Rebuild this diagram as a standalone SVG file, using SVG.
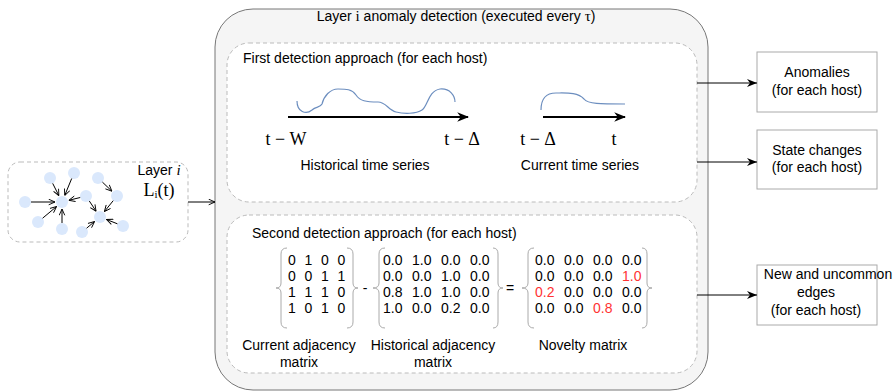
<svg xmlns="http://www.w3.org/2000/svg" width="895" height="391" viewBox="0 0 895 391">
<defs>
<style>
.s{font-family:"Liberation Sans",Arial,sans-serif;font-size:14px;fill:#000}
.m{font-family:"Liberation Serif","Times New Roman",serif;fill:#000}
.mx{font-family:"Liberation Sans",Arial,sans-serif;font-size:14px;fill:#000}
.red{fill:#ff3333}
.node{fill:#dae8fc;stroke:none}
.gedge{stroke:#000;stroke-width:1;fill:none;marker-end:url(#open)}
.conn{stroke:#000;stroke-width:1;fill:none;marker-end:url(#classic)}
.brace{stroke:#aaa;stroke-width:1;fill:none}
.wave{stroke:#6c8ebf;stroke-width:1.2;fill:none}
.axis{stroke:#000;stroke-width:2;fill:none;marker-end:url(#big)}
.dash{fill:#fff;stroke:#bbb;stroke-dasharray:4 3;stroke-width:1}
.box{fill:#fff;stroke:#aaa;stroke-width:1}
</style>
<marker id="classic" viewBox="0 0 10 10" refX="10" refY="5" markerWidth="10" markerHeight="10" markerUnits="userSpaceOnUse" orient="auto">
<path d="M0,1 L10,5 L0,9 L3,5 Z" fill="#000"/>
</marker>
<marker id="big" viewBox="0 0 10 10" refX="9" refY="5" markerWidth="6" markerHeight="6" orient="auto">
<path d="M0,1 L10,5 L0,9 L3,5 Z" fill="#000"/>
</marker>
<marker id="open" viewBox="0 0 10 10" refX="10" refY="5" markerWidth="7" markerHeight="7" markerUnits="userSpaceOnUse" orient="auto">
<path d="M1,1 L10,5 L1,9" fill="none" stroke="#000" stroke-width="1.3"/>
</marker>
</defs>

<g id="layer-graph">
<rect class="dash" x="8" y="162" width="180" height="80" rx="12"/>
<g id="graph-nodes">
<circle class="node" cx="50" cy="178" r="6"/>
<circle class="node" cx="74" cy="173" r="6"/>
<circle class="node" cx="98" cy="178" r="6"/>
<circle class="node" cx="117" cy="196" r="6"/>
<circle class="node" cx="86" cy="196" r="6"/>
<circle class="node" cx="25" cy="202" r="6"/>
<circle class="node" cx="62" cy="202" r="6"/>
<circle class="node" cx="100" cy="217" r="6"/>
<circle class="node" cx="38" cy="222" r="6"/>
<circle class="node" cx="62" cy="229" r="6"/>
<circle class="node" cx="82" cy="232" r="6"/>
<circle class="node" cx="123" cy="226" r="6"/>
</g>
<g id="graph-edges">
<line class="gedge" x1="52.7" y1="183.4" x2="58.9" y2="195.7"/>
<line class="gedge" x1="71.7" y1="178.5" x2="64.7" y2="195.5"/>
<line class="gedge" x1="31" y1="202" x2="55" y2="202"/>
<line class="gedge" x1="42.6" y1="218.2" x2="56.6" y2="206.5"/>
<line class="gedge" x1="62" y1="223" x2="62" y2="209"/>
<line class="gedge" x1="80.2" y1="197.5" x2="68.8" y2="200.3"/>
<line class="gedge" x1="89.3" y1="201" x2="96.1" y2="211.2"/>
<line class="gedge" x1="102.4" y1="182.1" x2="111.9" y2="191.2"/>
<line class="gedge" x1="113.2" y1="200.7" x2="104.4" y2="211.6"/>
<line class="gedge" x1="86.6" y1="228.2" x2="94.6" y2="221.5"/>
<line class="gedge" x1="117.4" y1="223.8" x2="106.5" y2="219.5"/>
</g>
<text class="s" x="159" y="175" text-anchor="middle">Layer <tspan class="m" font-style="italic" font-size="15">i</tspan></text>
<text class="m" x="159" y="196" text-anchor="middle" font-size="18">L<tspan font-size="11" dy="2">i</tspan><tspan dy="-2">(t)</tspan></text>
</g>

<g id="detection">
<rect x="215" y="9" width="493" height="381" rx="38" fill="#f5f5f5" stroke="#777" stroke-width="1"/>
<text class="s" x="456" y="21" text-anchor="middle">Layer <tspan class="m" font-size="15">i</tspan> anomaly detection (executed every <tspan class="m" font-size="15">τ</tspan>)</text>
</g>

<g id="first-approach">
<rect class="dash" x="227" y="43" width="470" height="159" rx="22"/>
<text class="s" x="243" y="63">First detection approach (for each host)</text>
<path class="wave" d="M297,101 C297,112 306,115 312,110 C316,106 320,108 322,104 C324,96 330,89 338,89 C346,89 352,89 356,95 C360,101 366,102 378,102 C386,102 388,110 396,112 C404,114 416,114 422,110 C428,106 428,91 440,89 C450,88 455,96 455,102"/>
<line class="axis" x1="288" y1="117" x2="468" y2="117"/>
<path class="wave" d="M541,110 C541,96 548,93 556,93 C566,93 578,92 584,99 C588,104 600,104 625,104"/>
<line class="axis" x1="543" y1="117" x2="625" y2="117"/>
<text class="m" x="286" y="145" font-size="18" text-anchor="middle">t − W</text>
<text class="m" x="462" y="145" font-size="18" text-anchor="middle">t − Δ</text>
<text class="m" x="538" y="145" font-size="18" text-anchor="middle">t − Δ</text>
<text class="m" x="614" y="145" font-size="18" text-anchor="middle">t</text>
<text class="s" x="365" y="170" text-anchor="middle">Historical time series</text>
<text class="s" x="580" y="170" text-anchor="middle">Current time series</text>
</g>

<g id="second-approach">
<rect class="dash" x="227" y="215" width="470" height="158" rx="22"/>
<text class="s" x="252" y="238">Second detection approach (for each host)</text>
<path class="brace" d="M287,248 Q281,248 281,254 L281,283 Q281,288 276,288 Q281,288 281,293 L281,322 Q281,328 287,328"/>
<path class="brace" d="M347,248 Q353,248 353,254 L353,283 Q353,288 358,288 Q353,288 353,293 L353,322 Q353,328 347,328"/>
<g class="mx">
<text y="265"><tspan x="288">0</tspan><tspan x="304.5">1</tspan><tspan x="321">0</tspan><tspan x="337.5">0</tspan></text>
<text y="281"><tspan x="288">0</tspan><tspan x="304.5">0</tspan><tspan x="321">1</tspan><tspan x="337.5">1</tspan></text>
<text y="297"><tspan x="288">1</tspan><tspan x="304.5">1</tspan><tspan x="321">1</tspan><tspan x="337.5">0</tspan></text>
<text y="313"><tspan x="288">1</tspan><tspan x="304.5">0</tspan><tspan x="321">1</tspan><tspan x="337.5">0</tspan></text>
</g>
<text class="s" x="365" y="293" text-anchor="middle">-</text>
<path class="brace" d="M385,248 Q379,248 379,254 L379,283 Q379,288 373,288 Q379,288 379,293 L379,322 Q379,328 385,328"/>
<path class="brace" d="M493,248 Q498,248 498,254 L498,283 Q498,288 503,288 Q498,288 498,293 L498,322 Q498,328 493,328"/>
<g class="mx">
<text y="265"><tspan x="383">0.0</tspan><tspan x="412">1.0</tspan><tspan x="441">0.0</tspan><tspan x="470">0.0</tspan></text>
<text y="281"><tspan x="383">0.0</tspan><tspan x="412">0.0</tspan><tspan x="441">1.0</tspan><tspan x="470">0.0</tspan></text>
<text y="297"><tspan x="383">0.8</tspan><tspan x="412">1.0</tspan><tspan x="441">1.0</tspan><tspan x="470">0.0</tspan></text>
<text y="313"><tspan x="383">1.0</tspan><tspan x="412">0.0</tspan><tspan x="441">0.2</tspan><tspan x="470">0.0</tspan></text>
</g>
<text class="s" x="510" y="293" text-anchor="middle">=</text>
<path class="brace" d="M534,248 Q528,248 528,254 L528,283 Q528,288 522,288 Q528,288 528,293 L528,322 Q528,328 534,328"/>
<path class="brace" d="M642,248 Q647,248 647,254 L647,283 Q647,288 652,288 Q647,288 647,293 L647,322 Q647,328 642,328"/>
<g class="mx">
<text y="265"><tspan x="535">0.0</tspan><tspan x="564">0.0</tspan><tspan x="593">0.0</tspan><tspan x="622">0.0</tspan></text>
<text y="281"><tspan x="535">0.0</tspan><tspan x="564">0.0</tspan><tspan x="593">0.0</tspan><tspan x="622" class="red">1.0</tspan></text>
<text y="297"><tspan x="535" class="red">0.2</tspan><tspan x="564">0.0</tspan><tspan x="593">0.0</tspan><tspan x="622">0.0</tspan></text>
<text y="313"><tspan x="535">0.0</tspan><tspan x="564">0.0</tspan><tspan x="593" class="red">0.8</tspan><tspan x="622">0.0</tspan></text>
</g>
<text class="s" x="299" y="350" text-anchor="middle">Current adjacency</text>
<text class="s" x="299" y="367" text-anchor="middle">matrix</text>
<text class="s" x="433" y="350" text-anchor="middle">Historical adjacency</text>
<text class="s" x="433" y="367" text-anchor="middle">matrix</text>
<text class="s" x="583" y="350" text-anchor="middle">Novelty matrix</text>
</g>

<g id="anomalies">
<rect class="box" x="757" y="52" width="120" height="60"/>
<text class="s" x="817" y="77" text-anchor="middle">Anomalies</text>
<text class="s" x="817" y="95" text-anchor="middle">(for each host)</text>
</g>
<g id="state-changes">
<rect class="box" x="757" y="130" width="120" height="59"/>
<text class="s" x="817" y="155" text-anchor="middle">State changes</text>
<text class="s" x="817" y="172" text-anchor="middle">(for each host)</text>
</g>
<g id="new-edges">
<rect class="box" x="757" y="265" width="120" height="60"/>
<text class="s" x="828" y="279" text-anchor="middle">New and uncommon</text>
<text class="s" x="816" y="297" text-anchor="middle">edges</text>
<text class="s" x="816" y="315" text-anchor="middle">(for each host)</text>
</g>

<g id="connectors">
<line class="conn" x1="188" y1="202" x2="215" y2="202" style="marker-end:url(#open)"/>
<line class="conn" x1="697" y1="83" x2="757" y2="83"/>
<line class="conn" x1="697" y1="162" x2="757" y2="162"/>
<line class="conn" x1="697" y1="295" x2="757" y2="295"/>
</g>
</svg>
